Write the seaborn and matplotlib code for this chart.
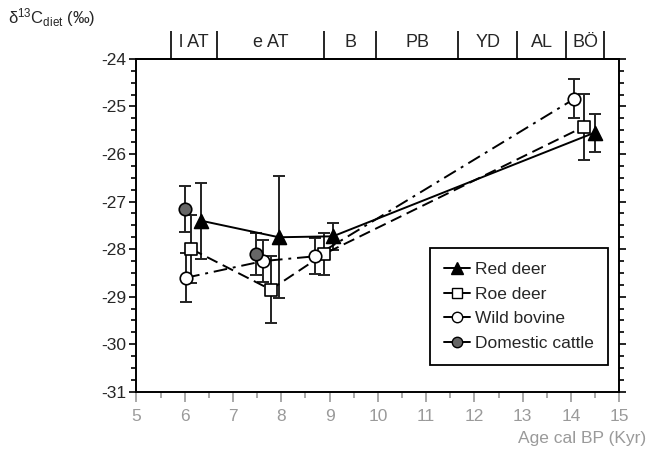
import numpy as np
import pandas as pd
import matplotlib
matplotlib.use("Agg")
import matplotlib.pyplot as plt
from matplotlib.lines import Line2D
import seaborn as sns

# values (age in kyr, delta13C diet, error half-width)
species = ["Red deer", "Roe deer", "Wild bovine", "Domestic cattle"]
red_age = [6.33, 7.95, 9.07, 14.49]
red_d13c = [-27.40, -27.75, -27.73, -25.55]
red_err = [0.80, 1.28, 0.28, 0.40]
roe_age = [6.14, 7.78, 8.89, 14.26]
roe_d13c = [-28.00, -28.85, -28.10, -25.43]
roe_err = [0.72, 0.71, 0.44, 0.70]
bov_age = [6.03, 7.63, 8.70, 14.07]
bov_d13c = [-28.60, -28.25, -28.15, -24.84]
bov_err = [0.51, 0.45, 0.38, 0.41]
cat_age = [6.00, 7.48]
cat_d13c = [-27.16, -28.10]
cat_err = [0.48, 0.45]

periods = ["l AT", "e AT", "B", "PB", "YD", "AL", "BÖ"]
period_bounds = [5.71, 6.67, 8.89, 9.96, 11.67, 12.88, 13.90, 14.69]

sns.set_style("ticks")
plt.rcParams["font.family"] = ["Liberation Sans", "DejaVu Sans"]
plt.rcParams["mathtext.fontset"] = "custom"
plt.rcParams["mathtext.rm"] = "Liberation Sans"
plt.rcParams["mathtext.it"] = "Liberation Sans:italic"

frames = []
for name, a, d, e in [("Red deer", red_age, red_d13c, red_err),
                      ("Roe deer", roe_age, roe_d13c, roe_err),
                      ("Wild bovine", bov_age, bov_d13c, bov_err),
                      ("Domestic cattle", cat_age, cat_d13c, cat_err)]:
    frames.append(pd.DataFrame({"species": name, "age": a, "d13c": d, "err": e}))
df = pd.concat(frames, ignore_index=True)

styles = {
    "Red deer": dict(marker="^", mfc="black", ls="-", ms=10),
    "Roe deer": dict(marker="s", mfc="white", ls=(0, (6, 3)), ms=9),
    "Wild bovine": dict(marker="o", mfc="white", ls=(0, (7, 3, 1.5, 3)), ms=9),
    "Domestic cattle": dict(marker="o", mfc="#666666", ls="none", ms=9),
}

fig = plt.figure(figsize=(6.56, 4.53), dpi=100)
ax = fig.add_axes([0.208, 0.135, 0.736, 0.735])

for name in species:
    sub = df[df["species"] == name]
    st = styles[name]
    ax.errorbar(sub["age"], sub["d13c"], yerr=sub["err"], fmt="none",
                ecolor="#222222", elinewidth=1.4, capsize=4, capthick=1.4, zorder=2)
    sns.lineplot(data=sub, x="age", y="d13c", ax=ax, sort=False, color="black",
                 linestyle=st["ls"], linewidth=1.4, zorder=3)
    sns.scatterplot(data=sub, x="age", y="d13c", ax=ax, marker=st["marker"],
                    color=st["mfc"], edgecolor="black", linewidth=1.2,
                    s=st["ms"] ** 2, zorder=4, legend=False)

ax.set_xlim(5, 15)
ax.set_ylim(-31, -24)
ax.set_xlabel("")
ax.set_ylabel("")
for s in ["top", "right", "left", "bottom"]:
    ax.spines[s].set_visible(True)
    ax.spines[s].set_linewidth(1.4)
    ax.spines[s].set_color("black")

ax.set_yticks(np.arange(-31, -23.5, 1))
ax.set_yticks(np.arange(-31, -23.9, 0.25), minor=True)
ax.set_yticklabels([f"{v:d}" for v in range(-31, -23)], fontsize=12.5)
ax.tick_params(axis="y", which="both", left=True, right=True, direction="out",
               color="black", width=1.2, pad=2)
ax.tick_params(axis="y", which="major", length=5)
ax.tick_params(axis="y", which="minor", length=3.5)

ax.set_xticks(np.arange(5, 15.5, 1))
ax.set_xticks(np.arange(5, 15.1, 0.5), minor=True)
ax.set_xticklabels([str(v) for v in range(5, 16)], fontsize=12.5, color="#9a9a9a")
ax.tick_params(axis="x", which="both", direction="out", color="#9a9a9a",
               width=1.2, top=False, pad=5)
ax.tick_params(axis="x", which="major", length=7)
ax.tick_params(axis="x", which="minor", length=4)

top = ax.secondary_xaxis("top")
top.set_xticks(period_bounds)
top.set_xticklabels([])
top.tick_params(axis="x", direction="out", length=20, width=1.2, color="black")
top.spines["top"].set_linewidth(1.4)
for i, lab in enumerate(periods):
    xc = (period_bounds[i] + period_bounds[i + 1]) / 2
    ax.text(xc, 1.025, lab, transform=ax.get_xaxis_transform(), ha="center",
            va="bottom", fontsize=13)

fig.text(0.012, 0.935, "δ$^{13}$C$_{\\rm diet}$ (‰)", fontsize=12, ha="left", va="bottom")
fig.text(0.985, 0.015, "Age cal BP (Kyr)", fontsize=12.5, color="#9a9a9a", ha="right", va="bottom")

handles = []
for name in species:
    st = styles[name]
    handles.append(Line2D([], [], color="black", ls="-", lw=1.4, marker=st["marker"],
                          mfc=st["mfc"], mec="black", ms=st["ms"] - 1.5))
leg = ax.legend(handles, species, loc="upper right", bbox_to_anchor=(0.977, 0.432),
                fontsize=12.5, frameon=True, fancybox=False, edgecolor="black",
                framealpha=1, handlelength=1.5, borderpad=0.8, labelspacing=0.55,
                handletextpad=0.3, borderaxespad=0)
leg.get_frame().set_linewidth(1.3)

fig.savefig("out.png", dpi=100)
